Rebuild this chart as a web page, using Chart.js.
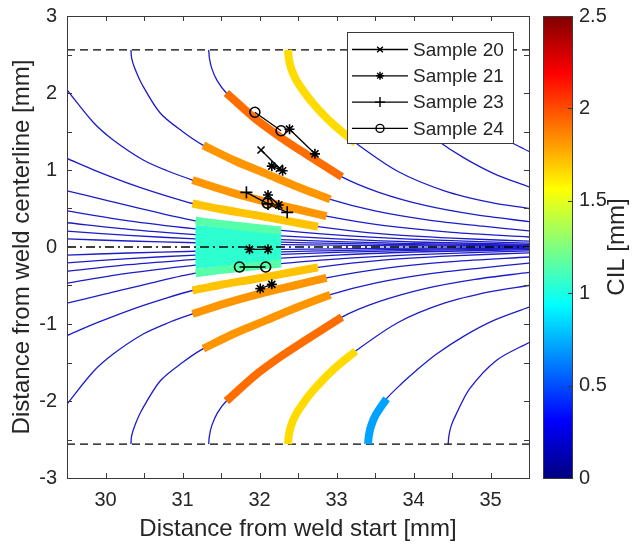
<!DOCTYPE html>
<html>
<head>
<meta charset="utf-8">
<script src="https://cdn.jsdelivr.net/npm/chart.js@4.4.1/dist/chart.umd.min.js"></script>
<style>
  html, body { margin: 0; padding: 0; background: #fff; }
  #wrap { width: 641px; height: 548px; }
</style>
</head>
<body>
<div id="wrap"><canvas id="grainChart" width="641" height="548"></canvas></div>
<script>
// Grain paths, upper half (y >= 0). The lower half is the mirror image about the centerline.
// Paths starting on the fusion line (dashed, y = 2.56)
const t1X = [30.33, 30.34, 30.38, 30.47, 30.71, 31.00, 31.27, 31.68, 32.09, 32.50, 32.92, 33.50, 34.20, 34.90, 35.50];
const t1Y = [2.56, 2.45, 2.32, 2.12, 1.74, 1.50, 1.32, 1.12, 0.95, 0.78, 0.62, 0.47, 0.35, 0.27, 0.21];
const t2X = [31.34, 31.35, 31.38, 31.45, 31.57, 31.94, 32.28, 32.60, 33.07, 33.55, 34.15, 34.80, 35.50];
const t2Y = [2.56, 2.45, 2.32, 2.16, 2.00, 1.67, 1.42, 1.21, 0.91, 0.71, 0.54, 0.42, 0.33];
const t3X = [32.37, 32.38, 32.41, 32.47, 32.56, 32.70, 32.95, 33.25, 33.80, 34.40, 35.00, 35.50];
const t3Y = [2.56, 2.45, 2.32, 2.18, 2.04, 1.86, 1.60, 1.35, 0.98, 0.73, 0.58, 0.50];
const t4X = [33.41, 33.42, 33.45, 33.51, 33.65, 33.85, 34.04, 34.30, 34.65, 35.05, 35.50];
const t4Y = [2.56, 2.45, 2.32, 2.18, 1.97, 1.77, 1.60, 1.39, 1.16, 0.95, 0.78];
const t5X = [34.45, 34.46, 34.49, 34.55, 34.73, 35.08, 35.50];
const t5Y = [2.56, 2.45, 2.32, 2.18, 1.84, 1.47, 1.24];
// Paths entering from the left edge
const l1X = [29.50, 29.84, 30.10, 30.49, 30.80, 31.13, 31.60, 32.00, 32.45, 32.87, 33.60, 34.50, 35.50];
const l1Y = [2.04, 1.62, 1.39, 1.13, 0.99, 0.87, 0.72, 0.61, 0.50, 0.40, 0.28, 0.19, 0.13];
const l2X = [29.50, 29.90, 30.40, 30.80, 31.13, 31.50, 31.94, 32.35, 32.76, 33.60, 34.50, 35.50];
const l2Y = [1.15, 0.98, 0.79, 0.66, 0.565, 0.49, 0.415, 0.34, 0.265, 0.17, 0.115, 0.075];
const l3X = [29.50, 30.00, 30.60, 31.17, 31.70, 32.28, 32.80, 33.50, 34.40, 35.50];
const l3Y = [0.73, 0.61, 0.465, 0.34, 0.275, 0.215, 0.17, 0.125, 0.085, 0.05];
const innerX = [29.50, 30.30, 31.17, 31.70, 32.28, 33.00, 34.00, 35.50];
const l4Y = [0.47, 0.34, 0.235, 0.185, 0.145, 0.105, 0.065, 0.035];
const l5Y = [0.315, 0.23, 0.16, 0.125, 0.097, 0.07, 0.044, 0.024];
const l6Y = [0.205, 0.15, 0.105, 0.082, 0.063, 0.046, 0.029, 0.016];
const l7Y = [0.105, 0.078, 0.055, 0.042, 0.032, 0.024, 0.015, 0.008];

// CIL bands on the paths: [path, start x, end x, CIL mm]
const upperBands = [
  ['t3', 32.37, 33.25, 1.65],
  ['t2', 31.57, 33.07, 1.92],
  ['t1', 31.27, 32.92, 1.82],
  ['l1', 31.13, 32.87, 1.82],
  ['l2', 31.13, 32.76, 1.71],
  ['l3', 31.17, 32.28, 1.15],
  ['l4', 31.17, 32.28, 1.05],
  ['l5', 31.17, 32.28, 1.05],
  ['l6', 31.17, 32.28, 1.05],
  ['l7', 31.17, 32.28, 1.05],
];
const lowerBands = upperBands.concat([['t4', 33.41, 33.65, 0.71]]);

// Measured samples: each one is a list of segments, each segment a list of [x, y]
const sample20 = [[[32.02, 1.26], [32.26, 1.02]]];
const sample21 = [
  [[32.39, 1.53], [32.72, 1.21]],
  [[32.16, 1.05], [32.30, 0.99]],
  [[32.11, 0.675], [32.25, 0.545]],
  [[31.87, -0.03], [32.11, -0.03]],
  [[32.01, -0.54], [32.16, -0.485]],
];
const sample23 = [[[31.83, 0.71], [32.11, 0.56], [32.36, 0.45]]];
const sample24 = [
  [[31.94, 1.75], [32.28, 1.51]],
  [[32.10, 0.57]],
  [[31.74, -0.26], [32.08, -0.26]],
];

const fusionLineX = [29.5, 35.5];
const fusionLineY = 2.56;
const cilMax = 2.5;

const paths = {
  t1: [t1X, t1Y], t2: [t2X, t2Y], t3: [t3X, t3Y], t4: [t4X, t4Y], t5: [t5X, t5Y],
  l1: [l1X, l1Y], l2: [l2X, l2Y], l3: [l3X, l3Y],
  l4: [innerX, l4Y], l5: [innerX, l5Y], l6: [innerX, l6Y], l7: [innerX, l7Y],
};

const textColor = '#262626';
const fontFamily = '"Liberation Sans", Arial, Helvetica, sans-serif';
Chart.defaults.font.family = fontFamily;
Chart.defaults.color = textColor;

function jet(v) {
  const t = Math.min(Math.max(v / cilMax, 0), 1);
  const c = (k) => Math.round(255 * Math.min(Math.max(1.5 - Math.abs(4 * t - k), 0), 1));
  return `rgb(${c(3)}, ${c(2)}, ${c(1)})`;
}

function pathPoints(name, sign, from, to) {
  const [xs, ys] = paths[name];
  const pts = [];
  xs.forEach((x, i) => {
    if (from === undefined || (x >= from - 1e-9 && x <= to + 1e-9)) {
      pts.push({ x: x, y: sign * ys[i] });
    }
  });
  return pts;
}

// the axes keep their fixed sizes; drop the label overhang chart.js adds
function fixedBox(size, horizontal) {
  return (s) => {
    if (horizontal) s.height = size; else s.width = size;
    s.paddingTop = 0;
    s.paddingBottom = 0;
    s.paddingLeft = 0;
    s.paddingRight = 0;
  };
}

const datasets = [];

// sample markers
const sampleStyles = [
  { label: 'Sample 20', segments: sample20, pointStyle: 'crossRot', radius: 5 },
  { label: 'Sample 21', segments: sample21, pointStyle: 'star', radius: 5 },
  { label: 'Sample 23', segments: sample23, pointStyle: 'cross', radius: 6 },
  { label: 'Sample 24', segments: sample24, pointStyle: 'circle', radius: 5 },
];
sampleStyles.forEach((s) => {
  const data = [];
  s.segments.forEach((seg, i) => {
    if (i > 0) data.push({ x: null, y: null });
    seg.forEach(([x, y]) => data.push({ x, y }));
  });
  datasets.push({
    label: s.label,
    data: data,
    showLine: true,
    borderColor: '#000',
    borderWidth: 1.3,
    pointStyle: s.pointStyle,
    pointRadius: s.radius,
    pointBorderWidth: 1.6,
    pointBorderColor: '#000',
    pointBackgroundColor: 'rgba(0,0,0,0)',
    order: 0,
  });
});

// centerline
datasets.push({
  label: 'centerline',
  data: fusionLineX.map((x) => ({ x, y: 0 })),
  showLine: true,
  borderColor: '#000',
  borderWidth: 1.4,
  borderDash: [9, 4, 2, 4],
  pointRadius: 0,
  order: 1,
});

// CIL bands
[[upperBands, 1], [lowerBands, -1]].forEach(([bands, sign]) => {
  bands.forEach(([name, from, to, cil]) => {
    datasets.push({
      label: 'band',
      data: pathPoints(name, sign, from, to),
      showLine: true,
      borderColor: jet(cil),
      borderWidth: 8,
      borderCapStyle: 'butt',
      tension: 0.3,
      pointRadius: 0,
      order: 2,
    });
  });
});

// thin grain paths
Object.keys(paths).forEach((name) => {
  [1, -1].forEach((sign) => {
    datasets.push({
      label: 'path',
      data: pathPoints(name, sign),
      showLine: true,
      borderColor: 'rgb(28, 28, 200)',
      borderWidth: 1.3,
      tension: 0.3,
      pointRadius: 0,
      order: 4,
    });
  });
});

// fusion lines
[1, -1].forEach((sign) => {
  datasets.push({
    label: 'fusion',
    data: fusionLineX.map((x) => ({ x, y: sign * fusionLineY })),
    showLine: true,
    borderColor: '#000',
    borderWidth: 1.4,
    borderDash: [8, 5],
    pointRadius: 0,
    order: 3,
  });
});

function drawMarker(ctx, style, radius, x, y) {
  if (Chart.helpers && Chart.helpers.drawPoint) {
    Chart.helpers.drawPoint(ctx, { pointStyle: style, radius: radius, borderWidth: 1.6, rotation: 0 }, x, y);
  }
}

const axisBox = {
  id: 'axisBox',
  afterDraw(chart) {
    const { ctx, chartArea: a, scales } = chart;
    ctx.save();
    ctx.strokeStyle = '#3a3a3a';
    ctx.lineWidth = 1;
    ctx.beginPath();
    scales.x.ticks.forEach((t) => {
      const px = Math.round(scales.x.getPixelForValue(t.value)) + 0.5;
      ctx.moveTo(px, a.bottom); ctx.lineTo(px, a.bottom - 5);
      ctx.moveTo(px, a.top); ctx.lineTo(px, a.top + 5);
    });
    scales.y.ticks.forEach((t) => {
      const py = Math.round(scales.y.getPixelForValue(t.value)) + 0.5;
      ctx.moveTo(a.left, py); ctx.lineTo(a.left + 5, py);
      ctx.moveTo(a.right, py); ctx.lineTo(a.right - 5, py);
    });
    ctx.stroke();
    ctx.strokeRect(Math.round(a.left) + 0.5, Math.round(a.top) + 0.5,
      Math.round(a.right - a.left), Math.round(a.bottom - a.top));
    ctx.restore();
  },
};

const colorBar = {
  id: 'colorBar',
  afterDraw(chart) {
    const { ctx, chartArea: a } = chart;
    const cb = chart.scales.cb;
    const x0 = a.right + 14;
    const w = 29;
    const yTop = cb.getPixelForValue(cilMax);
    const yBot = cb.getPixelForValue(0);
    const grad = ctx.createLinearGradient(0, yBot, 0, yTop);
    [0, 1 / 8, 3 / 8, 5 / 8, 7 / 8, 1].forEach((t) => grad.addColorStop(t, jet(t * cilMax)));
    ctx.save();
    ctx.fillStyle = grad;
    ctx.fillRect(x0, yTop, w, yBot - yTop);
    ctx.strokeStyle = '#3a3a3a';
    ctx.lineWidth = 1;
    ctx.strokeRect(Math.round(x0) + 0.5, Math.round(yTop) + 0.5, w, Math.round(yBot - yTop));
    ctx.beginPath();
    cb.ticks.forEach((t) => {
      const py = Math.round(cb.getPixelForValue(t.value)) + 0.5;
      ctx.moveTo(x0 + w, py); ctx.lineTo(x0 + w - 4, py);
    });
    ctx.stroke();
    ctx.translate(a.right + 88, (yTop + yBot) / 2);
    ctx.rotate(-Math.PI / 2);
    ctx.fillStyle = textColor;
    ctx.font = '24px ' + fontFamily;
    ctx.textAlign = 'center';
    ctx.textBaseline = 'middle';
    ctx.fillText('CIL [mm]', 0, 0);
    ctx.restore();
  },
};

const sampleLegend = {
  id: 'sampleLegend',
  afterDraw(chart) {
    const { ctx, chartArea: a } = chart;
    const left = a.right - 182;
    const top = a.top + 16;
    const width = 166;
    const height = 111;
    ctx.save();
    ctx.fillStyle = '#fff';
    ctx.fillRect(left, top, width, height);
    ctx.strokeStyle = '#3a3a3a';
    ctx.lineWidth = 1;
    ctx.strokeRect(Math.round(left) + 0.5, Math.round(top) + 0.5, width, height);
    ctx.font = '19px ' + fontFamily;
    ctx.textBaseline = 'middle';
    sampleStyles.forEach((s, i) => {
      const y = top + 17.5 + i * 26.3;
      ctx.strokeStyle = '#000';
      ctx.lineWidth = 1.3;
      ctx.beginPath();
      ctx.moveTo(left + 5, y); ctx.lineTo(left + 61, y);
      ctx.stroke();
      ctx.fillStyle = 'rgba(0,0,0,0)';
      ctx.lineWidth = 1.4;
      drawMarker(ctx, s.pointStyle, s.radius - 1, left + 33, y);
      ctx.fillStyle = textColor;
      ctx.fillText(s.label, left + 66, y + 1);
    });
    ctx.restore();
  },
};

new Chart(document.getElementById('grainChart'), {
  type: 'scatter',
  data: { datasets: datasets },
  options: {
    responsive: false,
    animation: false,
    events: [],
    layout: { padding: { top: 16, left: 0, right: 0, bottom: 0 } },
    plugins: { legend: { display: false }, tooltip: { enabled: false } },
    scales: {
      x: {
        type: 'linear',
        min: 29.5,
        max: 35.5,
        grid: { display: false, drawTicks: false },
        border: { display: false },
        ticks: {
          stepSize: 0.5,
          autoSkip: false,
          maxRotation: 0,
          padding: 10,
          font: { size: 20 },
          color: textColor,
          callback: (v) => (Number.isInteger(v) ? String(v) : ''),
        },
        title: {
          display: true,
          text: 'Distance from weld start [mm]',
          font: { size: 24 },
          color: textColor,
          padding: { top: 0, bottom: 4 },
        },
        afterFit: fixedBox(70, true),
      },
      y: {
        type: 'linear',
        position: 'left',
        min: -3,
        max: 3,
        grid: { display: false, drawTicks: false },
        border: { display: false },
        ticks: {
          stepSize: 0.5,
          autoSkip: false,
          padding: 10,
          font: { size: 20 },
          color: textColor,
          callback: (v) => (Number.isInteger(v) ? String(v) : ''),
        },
        title: {
          display: true,
          text: 'Distance from weld centerline [mm]',
          font: { size: 24 },
          color: textColor,
          padding: { top: 8, bottom: 0 },
        },
        afterFit: fixedBox(67, false),
      },
      cb: {
        type: 'linear',
        position: 'right',
        min: 0,
        max: cilMax,
        grid: { display: false, drawTicks: false },
        border: { display: false },
        ticks: {
          stepSize: 0.5,
          padding: 50,
          font: { size: 20 },
          color: textColor,
          callback: (v) => String(v),
        },
        afterFit: fixedBox(112, false),
      },
    },
  },
  plugins: [axisBox, colorBar, sampleLegend],
});
</script>
</body>
</html>
